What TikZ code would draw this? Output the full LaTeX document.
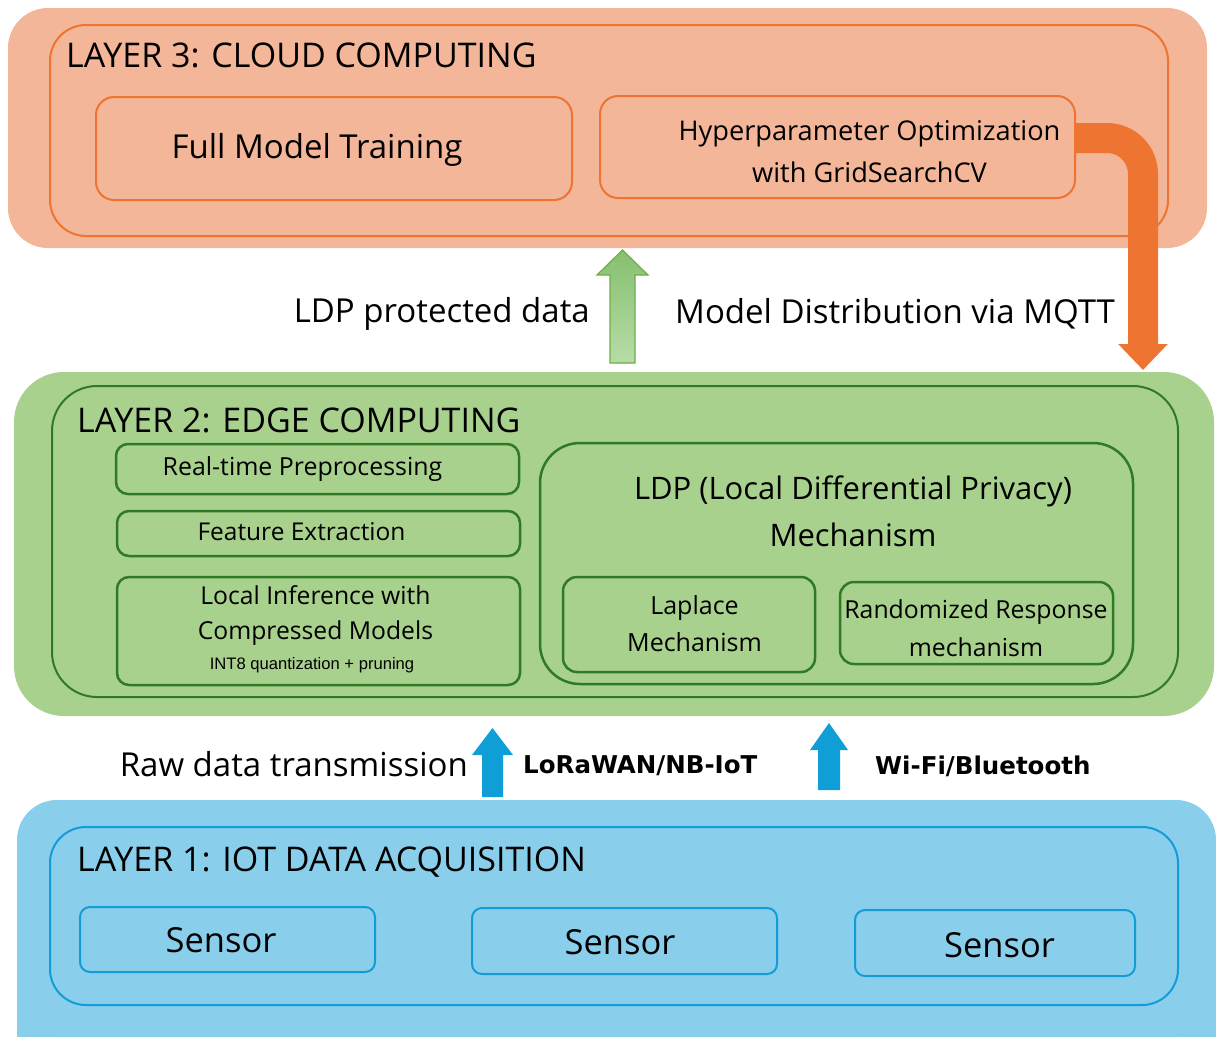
\documentclass[tikz,border=0pt]{standalone}
\usepackage{fontspec}
\setmainfont{Open Sans}
\newfontfamily\boldlbl{DejaVu Sans}
\newfontfamily\smallfont{Liberation Sans}
\usetikzlibrary{arrows.meta}
\definecolor{cloudfill}{HTML}{F4B698}
\definecolor{cloudline}{HTML}{ED7431}
\definecolor{edgefill}{HTML}{A9D18E}
\definecolor{edgeline}{HTML}{2F7A24}
\definecolor{iotfill}{HTML}{89CFEB}
\definecolor{iotline}{HTML}{149CD8}
\definecolor{upblue}{HTML}{0F9ED5}
\definecolor{upgreenA}{HTML}{86C070}
\definecolor{upgreenB}{HTML}{B7DCA7}
\definecolor{upgreenL}{HTML}{70AD47}
\tikzset{
  layerbg/.style={rounded corners=40pt, draw=none},
  layerframe/.style={rounded corners=36pt, line width=2pt, fill=none},
  cloudbox/.style={draw=cloudline, line width=2pt, rounded corners=18pt, inner sep=0pt},
  edgebox/.style={draw=edgeline, line width=2.5pt, rounded corners=12pt, inner sep=0pt},
  iotbox/.style={draw=iotline, line width=2pt, rounded corners=10pt, inner sep=0pt},
  txt/.style={align=center, inner sep=0pt},
  title/.style={anchor=west, font=\fontsize{34}{40}\selectfont, inner sep=0pt},
  flowlabel/.style={font=\fontsize{33}{38}\selectfont, inner sep=0pt},
  linklabel/.style={font=\boldlbl\bfseries\fontsize{24.5}{28}\selectfont, anchor=west, inner sep=0pt},
  sensortxt/.style={txt, font=\fontsize{34.5}{40}\selectfont},
}
\begin{document}
\begin{tikzpicture}[x=1pt, y=-1pt]
\useasboundingbox (0,0) rectangle (1216,1037);

% ---------- Layer 3: cloud ----------
\fill[cloudfill, layerbg] (8,8) rectangle (1207,248);
\draw[cloudline, layerframe] (50,25) rectangle (1168,236);
\node[title] (t3) at (66,55) {LAYER 3: CLOUD COMPUTING};
\node[cloudbox, minimum width=476pt, minimum height=103pt] (fmt) at (334,148.5) {};
\node[txt, font=\fontsize{33}{38}\selectfont] (fmtt) at (317,150) {Full Model Training};
\node[cloudbox, minimum width=475pt, minimum height=102pt] (hpo) at (837.5,147) {};
\node[txt, font=\fontsize{27.2}{42}\selectfont] (hpot) at (869.5,152) {Hyperparameter Optimization\\ with GridSearchCV};

% ---------- Layer 2: edge ----------
\fill[edgefill, layerbg, rounded corners=50pt] (14,372) rectangle (1214,716);
\draw[edgeline, layerframe, rounded corners=45pt] (52,386) rectangle (1178,697);
\node[title] (t2) at (77,420) {LAYER 2: EDGE COMPUTING};
\node[edgebox, minimum width=403pt, minimum height=50pt] (pre) at (317.5,469) {};
\node[txt, font=\fontsize{24.9}{30}\selectfont] (pret) at (302.5,469) {Real-time Preprocessing};
\node[edgebox, minimum width=403pt, minimum height=45pt] (fe) at (318.5,533.5) {};
\node[txt, font=\fontsize{24.5}{30}\selectfont] (fet) at (301.5,532) {Feature Extraction};
\node[edgebox, minimum width=403pt, minimum height=108pt] (inf) at (318.5,631) {};
\node[txt, font=\fontsize{24.7}{35}\selectfont] (inft) at (315.5,616) {Local Inference with\\ Compressed Models};
\node[txt, font=\smallfont\fontsize{16.6}{20}\selectfont] (infs) at (312,665) {INT8 quantization + pruning};
\node[edgebox, rounded corners=40pt, minimum width=593pt, minimum height=241pt] (ldp) at (836.5,563.5) {};
\node[txt, font=\fontsize{31}{47}\selectfont] (ldpt) at (853,511)
      {LDP (Local Differential Privacy)\\ Mechanism};
\node[edgebox, rounded corners=14pt, minimum width=252pt, minimum height=95pt] (lap) at (689,624.5) {};
\node[txt, font=\fontsize{25}{37}\selectfont] (lapt) at (694.5,623.5) {Laplace\\ Mechanism};
\node[edgebox, rounded corners=14pt, minimum width=273pt, minimum height=82pt] (rr) at (976.5,623) {};
\node[txt, font=\fontsize{24.8}{38}\selectfont] (rrt) at (976,628) {Randomized Response\\ mechanism};

% ---------- Layer 1: IoT ----------
\fill[iotfill, layerbg] (17,800) rectangle (1216,1037);
\fill[iotfill] (17,1000) rectangle (1216,1037);
\draw[iotline, layerframe] (50,827) rectangle (1178,1005);
\node[title] (t1) at (77,862) {LAYER 1: IOT DATA ACQUISITION};
\node[iotbox, minimum width=295pt, minimum height=65pt] (s1) at (227.5,939.5) {};
\node[sensortxt] (s1t) at (221,940) {Sensor};
\node[iotbox, minimum width=305pt, minimum height=66pt] (s2) at (624.5,941) {};
\node[sensortxt] (s2t) at (620,942) {Sensor};
\node[iotbox, minimum width=280pt, minimum height=66pt] (s3) at (995,943) {};
\node[sensortxt] (s3t) at (999.5,945) {Sensor};

% ---------- flows between layers ----------
% LDP protected data: block arrow from edge up to cloud
\coordinate (gbase) at (622.5,363);
\coordinate (gtip) at (622.5,250);
\draw[upgreenL, line width=1.2pt, top color=upgreenA, bottom color=upgreenB]
  ([xshift=-12.5pt]gbase) -- ([xshift=-12.5pt]gbase |- 0,275) -- ([xshift=-25.5pt]gbase |- 0,275)
  -- (gtip) -- ([xshift=25.5pt]gbase |- 0,275) -- ([xshift=12.5pt]gbase |- 0,275)
  -- ([xshift=12.5pt]gbase) -- cycle;
\node[flowlabel, anchor=east] (ldplbl) at (590,314) {LDP protected data};
\node[flowlabel, anchor=west] (mqttlbl) at (675,314) {Model Distribution via MQTT};

% Model distribution: thick bent arrow from cloud down to edge
\coordinate (odrop) at (1143,370);
\draw[cloudline, line width=30pt, rounded corners=36pt,
      -{Triangle[width=48pt, length=26pt]}]
  (hpo.east |- 0,138) -- (1143,138) -- (odrop);

% Raw data transmission: two block arrows from IoT up to edge
\node[flowlabel, anchor=east] (rawlbl) at (468,764) {Raw data transmission};
\fill[upblue] (482,797) -- (482,755) -- (472,755) -- (492.5,728) -- (513,755) -- (503,755) -- (503,797) -- cycle;
\node[linklabel] (lora) at (523,766) {LoRaWAN/NB-IoT};
\fill[upblue] (818,790) -- (818,750) -- (810,750) -- (829,723) -- (848,750) -- (840,750) -- (840,790) -- cycle;
\node[linklabel] (wifi) at (875,766) {Wi-Fi/Bluetooth};
\end{tikzpicture}
\end{document}
